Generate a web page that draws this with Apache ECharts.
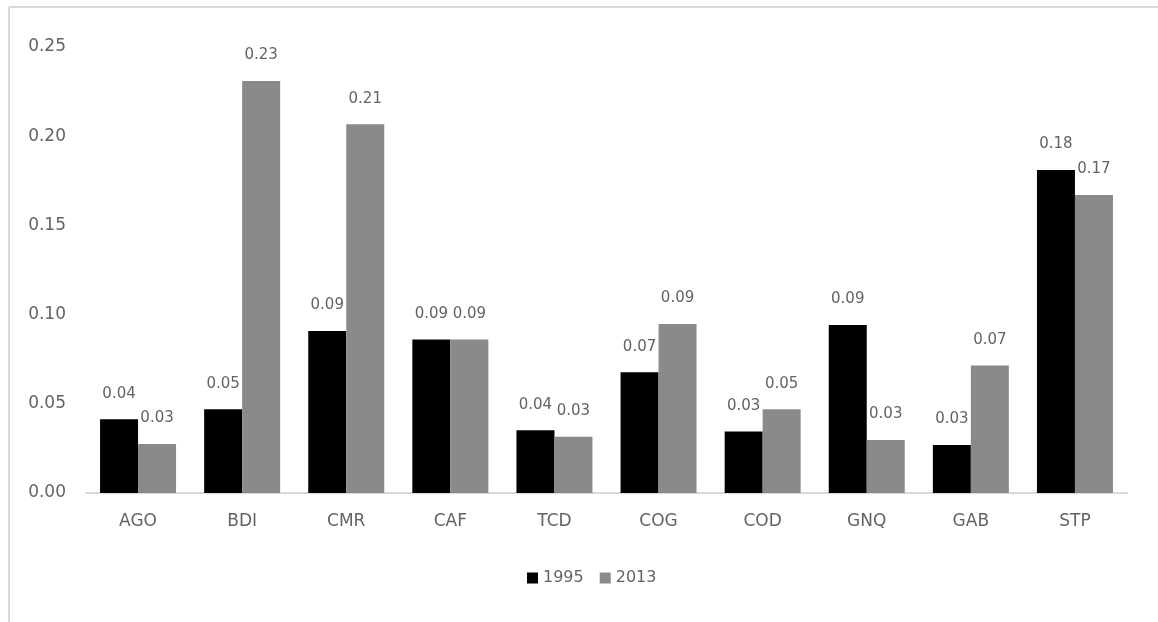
<!DOCTYPE html>
<html>
<head>
<meta charset="utf-8">
<script src="https://cdn.jsdelivr.net/npm/echarts@6/dist/echarts.min.js"></script>
<style>
html,body{margin:0;padding:0;background:#fff;}
#chart{width:1158px;height:622px;}
</style>
</head>
<body>
<div id="chart"></div>
<script>
var categories = ['AGO', 'BDI', 'CMR', 'CAF', 'TCD', 'COG', 'COD', 'GNQ', 'GAB', 'STP'];
var values1995 = [0.0413, 0.0469, 0.0908, 0.0861, 0.0352, 0.0677, 0.0345, 0.0942, 0.0269, 0.1810];
var values2013 = [0.0275, 0.2309, 0.2067, 0.0861, 0.0316, 0.0947, 0.0470, 0.0297, 0.0714, 0.1670];
var seriesNames = ['1995', '2013'];

var FONT = 'DejaVu Sans';
var TXT = '#636363';

var chart = echarts.init(document.getElementById('chart'), null, {renderer: 'canvas'});
var labelCfg = {
  show: true,
  position: 'top',
  distance: 18,
  color: TXT,
  fontFamily: FONT,
  fontSize: 15,
  formatter: function (p) { return p.value.toFixed(2); }
};
chart.setOption({
  animation: false,
  backgroundColor: '#ffffff',
  graphic: [
    {type: 'line', shape: {x1: 9, y1: 7, x2: 1158, y2: 7}, style: {stroke: '#d9d9d9', lineWidth: 2}, silent: true},
    {type: 'line', shape: {x1: 9, y1: 7, x2: 9, y2: 622}, style: {stroke: '#d9d9d9', lineWidth: 2}, silent: true}
  ],
  grid: {left: 86, right: 31, top: 47, bottom: 129, containLabel: false},
  legend: {
    data: seriesNames,
    top: 565,
    left: 522,
    itemWidth: 11,
    itemHeight: 11,
    itemGap: 16,
    icon: 'rect',
    textStyle: {color: TXT, fontFamily: FONT, fontSize: 16}
  },
  xAxis: {
    type: 'category',
    data: categories,
    axisLine: {show: true, lineStyle: {color: '#d9d9d9', width: 2}},
    axisTick: {show: false},
    axisLabel: {color: TXT, fontFamily: FONT, fontSize: 17, margin: 20}
  },
  yAxis: {
    type: 'value',
    min: 0,
    max: 0.25,
    interval: 0.05,
    axisLine: {show: false},
    axisTick: {show: false},
    splitLine: {show: false},
    axisLabel: {
      color: TXT, fontFamily: FONT, fontSize: 17, margin: 20,
      formatter: function (v) { return v.toFixed(2); }
    }
  },
  series: [
    {
      name: seriesNames[0], type: 'bar', data: values1995,
      itemStyle: {color: '#000000'},
      barGap: '0%', barCategoryGap: '27%',
      label: labelCfg
    },
    {
      name: seriesNames[1], type: 'bar', data: values2013,
      itemStyle: {color: '#8a8a8a'},
      barGap: '0%', barCategoryGap: '27%',
      label: labelCfg
    }
  ]
});
</script>
</body>
</html>
